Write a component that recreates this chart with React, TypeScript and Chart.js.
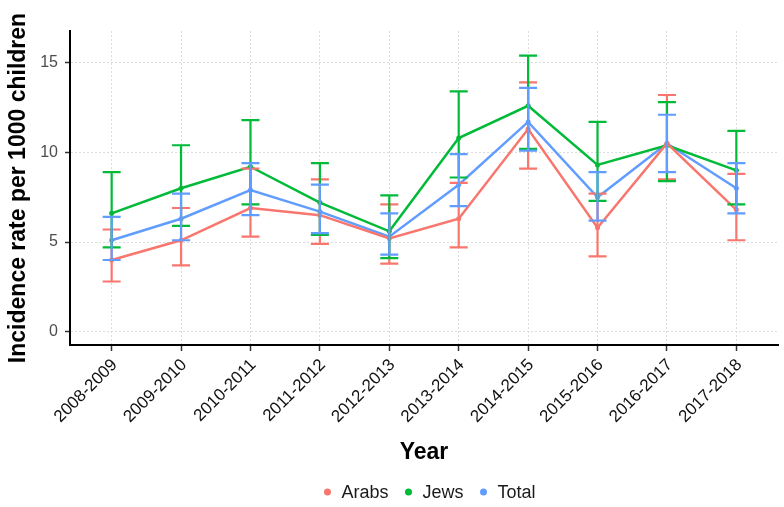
import { useEffect, useRef } from 'react';
import { Chart, registerables } from 'chart.js';

Chart.register(...registerables);

const categories = ['2008-2009', '2009-2010', '2010-2011', '2011-2012', '2012-2013', '2013-2014', '2014-2015', '2015-2016', '2016-2017', '2017-2018'];
const yTicks = [0, 5, 10, 15];

const arabs = [4.0, 5.1, 6.9, 6.5, 5.2, 6.3, 11.3, 5.8, 10.5, 6.8];
const arabsLow = [2.8, 3.7, 5.3, 4.9, 3.8, 4.7, 9.1, 4.2, 8.5, 5.1];
const arabsHigh = [5.7, 6.9, 9.1, 8.5, 7.1, 8.3, 13.9, 7.7, 13.2, 8.8];

const jews = [6.6, 8.0, 9.2, 7.2, 5.6, 10.8, 12.6, 9.3, 10.4, 9.0];
const jewsLow = [4.7, 5.9, 7.1, 5.4, 4.1, 8.6, 10.2, 7.3, 8.4, 7.1];
const jewsHigh = [8.9, 10.4, 11.8, 9.4, 7.6, 13.4, 15.4, 11.7, 12.8, 11.2];

const total = [5.1, 6.3, 7.9, 6.7, 5.3, 8.2, 11.7, 7.5, 10.5, 8.0];
const totalLow = [4.0, 5.1, 6.5, 5.5, 4.3, 7.0, 10.1, 6.2, 8.9, 6.6];
const totalHigh = [6.4, 7.7, 9.4, 8.2, 6.6, 9.9, 13.6, 8.9, 12.1, 9.4];

const seriesNames = ['Arabs', 'Jews', 'Total'];
const seriesColors = ['#F8766D', '#00BA38', '#619CFF'];

const FONT = '"Liberation Sans", Arial, Helvetica, sans-serif';

const errorBarPlugin = {
  id: 'errorBars',
  afterDatasetsDraw(chart: any) {
    const { ctx } = chart;
    const xs = chart.scales.x;
    const ys = chart.scales.y;
    chart.data.datasets.forEach((ds: any, di: number) => {
      const meta = chart.getDatasetMeta(di);
      if (meta.hidden) return;
      ctx.save();
      ctx.strokeStyle = ds.borderColor;
      ctx.lineWidth = 2.2;
      ds.errLow.forEach((lo: number, i: number) => {
        const hi = ds.errHigh[i];
        const x = xs.getPixelForValue(i);
        const y1 = ys.getPixelForValue(lo);
        const y2 = ys.getPixelForValue(hi);
        const half = 9;
        ctx.beginPath();
        ctx.moveTo(x, y1);
        ctx.lineTo(x, y2);
        ctx.moveTo(x - half, y1);
        ctx.lineTo(x + half, y1);
        ctx.moveTo(x - half, y2);
        ctx.lineTo(x + half, y2);
        ctx.stroke();
      });
      ctx.restore();
    });
  },
};

const legendPlugin = {
  id: 'bottomLegend',
  afterDraw(chart: any) {
    const { ctx } = chart;
    ctx.save();
    ctx.font = `18px ${FONT}`;
    ctx.textBaseline = 'middle';
    const dotGap = 17;
    const itemGap = 17;
    const items = chart.data.datasets.map((ds: any) => ({
      label: ds.label,
      color: ds.borderColor,
      w: ctx.measureText(ds.label).width,
    }));
    let totalW = 0;
    items.forEach((it: any, i: number) => {
      totalW += dotGap + it.w + (i < items.length - 1 ? itemGap : 0);
    });
    let x = 430 - totalW / 2;
    const y = 492;
    items.forEach((it: any) => {
      ctx.fillStyle = it.color;
      ctx.beginPath();
      ctx.arc(x + 3, y, 3.5, 0, Math.PI * 2);
      ctx.fill();
      ctx.fillStyle = '#1a1a1a';
      ctx.fillText(it.label, x + dotGap, y + 1);
      x += dotGap + it.w + itemGap;
    });
    ctx.restore();
  },
};

export default function App() {
  const ref = useRef<HTMLCanvasElement>(null);

  useEffect(() => {
    document.body.style.margin = '0';
    document.body.style.background = '#ffffff';
    const values = [arabs, jews, total];
    const lows = [arabsLow, jewsLow, totalLow];
    const highs = [arabsHigh, jewsHigh, totalHigh];
    const datasets = seriesNames.map((name, k) => ({
      label: name,
      data: values[k].map((v, i) => ({ x: i, y: v })),
      errLow: lows[k],
      errHigh: highs[k],
      borderColor: seriesColors[k],
      backgroundColor: seriesColors[k],
      borderWidth: 2.5,
      pointRadius: 2.5,
      pointBorderWidth: 0,
      pointBackgroundColor: seriesColors[k],
      tension: 0,
      fill: false,
    }));

    const chart = new Chart(ref.current as HTMLCanvasElement, {
      type: 'line',
      data: { datasets } as any,
      options: {
        responsive: false,
        animation: false,
        layout: { padding: { top: 31, right: 6, left: 0, bottom: 0 } },
        plugins: {
          legend: { display: false },
          tooltip: { enabled: false },
        },
        font: { family: FONT },
        scales: {
          x: {
            type: 'linear',
            min: -0.6,
            max: 9.6,
            afterBuildTicks: (s: any) => {
              s.ticks = categories.map((_, i) => ({ value: i }));
            },
            afterFit: (s: any) => {
              s.height = 162;
            },
            ticks: {
              autoSkip: false,
              minRotation: 45,
              maxRotation: 45,
              padding: 4,
              labelOffset: 3,
              color: '#111111',
              font: { size: 17, family: FONT },
              callback: (v: any) => categories[v as number],
            },
            grid: {
              color: '#dcdcdc',
              lineWidth: 1,
              drawTicks: true,
              tickLength: 6,
              tickColor: '#333333',
              tickWidth: 1.5,
              tickBorderDash: [],
            },
            border: { display: true, color: '#000000', width: 2, dash: [2, 2] },
            title: {
              display: true,
              text: 'Year',
              color: '#000000',
              font: { size: 23, weight: 'bold', family: FONT },
              padding: { top: 0, bottom: 41 },
            },
          },
          y: {
            type: 'linear',
            min: -0.74,
            max: 16.77,
            afterBuildTicks: (s: any) => {
              s.ticks = yTicks.map((v) => ({ value: v }));
            },
            afterFit: (s: any) => {
              s.width = 70;
            },
            ticks: {
              padding: 7,
              color: '#4d4d4d',
              font: { size: 16, family: FONT },
            },
            grid: {
              color: '#dcdcdc',
              lineWidth: 1,
              drawTicks: true,
              tickLength: 5,
              tickColor: '#333333',
              tickWidth: 1.5,
              tickBorderDash: [],
            },
            border: { display: true, color: '#000000', width: 2, dash: [2, 2] },
            title: {
              display: true,
              text: 'Incidence rate per 1000 children',
              color: '#000000',
              font: { size: 23, weight: 'bold', family: FONT },
              padding: { top: 5, bottom: 0 },
            },
          },
        },
      } as any,
      plugins: [errorBarPlugin, legendPlugin],
    });
    return () => chart.destroy();
  }, []);

  return (
    <div style={{ width: 784, height: 507 }}>
      <canvas ref={ref} width={784} height={507} style={{ display: 'block' }} />
    </div>
  );
}
